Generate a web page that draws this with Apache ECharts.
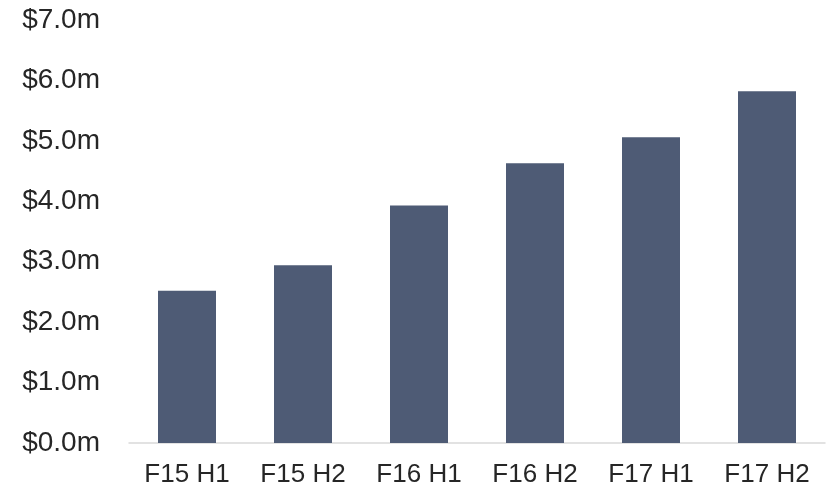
<!DOCTYPE html>
<html>
<head>
<meta charset="utf-8">
<script src="https://cdn.jsdelivr.net/npm/echarts@6/dist/echarts.min.js"></script>
<style>
  html, body { margin: 0; padding: 0; background: #ffffff; }
  #chart { width: 831px; height: 490px; }
</style>
</head>
<body>
<div id="chart"></div>
<script>
// Half-yearly revenue, in $ millions
const periods = ['F15 H1', 'F15 H2', 'F16 H1', 'F16 H2', 'F17 H1', 'F17 H2'];
const revenue = [2.52, 2.94, 3.93, 4.63, 5.06, 5.82];

const chart = echarts.init(document.getElementById('chart'));
const fontFamily = 'Liberation Sans, Arial, Helvetica, sans-serif';
const textColor = '#262626';

chart.setOption({
  animation: false,
  grid: { left: 129, right: 6, top: 20, bottom: 47, containLabel: false },
  xAxis: {
    type: 'category',
    data: periods,
    axisLine: { show: true, lineStyle: { color: '#d9d9d9', width: 1.5 } },
    axisTick: { show: false },
    axisLabel: { margin: 19, fontFamily, fontSize: 26, color: textColor }
  },
  yAxis: {
    type: 'value',
    min: 0,
    max: 7,
    interval: 1,
    axisLine: { show: false },
    axisTick: { show: false },
    splitLine: { show: false },
    axisLabel: {
      margin: 29,
      fontFamily,
      fontSize: 28,
      color: textColor,
      padding: [5, 0, 0, 0],
      formatter: v => '$' + v.toFixed(1) + 'm'
    }
  },
  series: [{
    type: 'bar',
    data: revenue,
    barWidth: 58,
    itemStyle: { color: '#4e5b75' }
  }]
});
</script>
</body>
</html>
